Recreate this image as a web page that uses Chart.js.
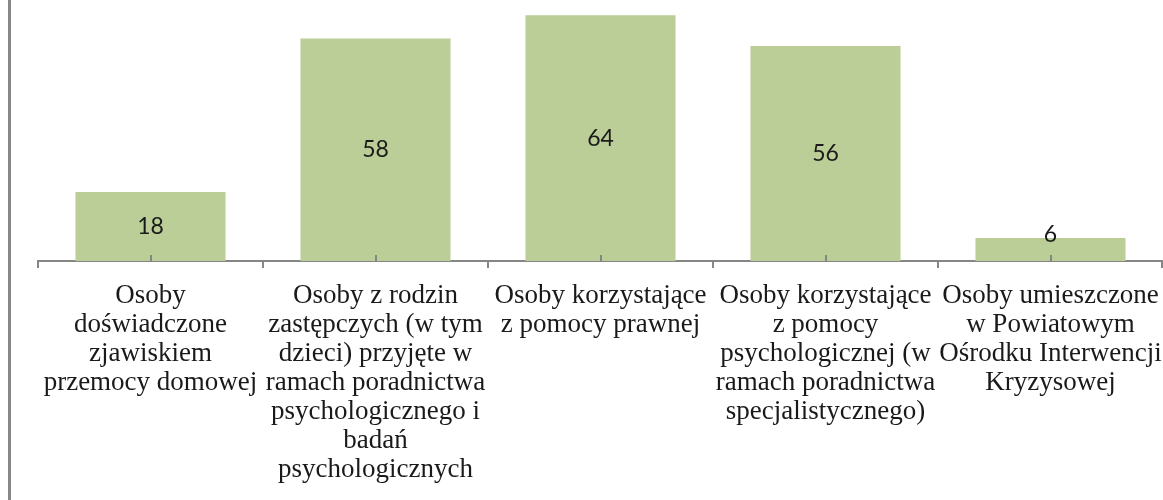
<!DOCTYPE html>
<html>
<head>
<meta charset="utf-8">
<script src="https://cdn.jsdelivr.net/npm/chart.js@4/dist/chart.umd.min.js"></script>
<style>
  html, body { margin: 0; padding: 0; background: #fff; }
  #wrap { position: relative; width: 1163px; height: 500px; }
  #frame { position: absolute; left: 8px; top: 0; width: 3px; height: 500px; background: #878787; }
  canvas { position: absolute; left: 0; top: 0; }
</style>
</head>
<body>
<div id="wrap">
  <canvas id="c" width="1163" height="500"></canvas>
  <div id="frame"></div>
</div>
<script>
const categories = [
  ["Osoby", "doświadczone", "zjawiskiem", "przemocy domowej"],
  ["Osoby z rodzin", "zastępczych (w tym", "dzieci) przyjęte w", "ramach poradnictwa", "psychologicznego i", "badań", "psychologicznych"],
  ["Osoby korzystające", "z pomocy prawnej"],
  ["Osoby korzystające", "z pomocy", "psychologicznej (w", "ramach poradnictwa", "specjalistycznego)"],
  ["Osoby umieszczone", "w Powiatowym", "Ośrodku Interwencji", "Kryzysowej"]
];
const values = [18, 58, 64, 56, 6];

const axisColor = '#868686';

const extrasPlugin = {
  id: 'extras',
  afterDatasetsDraw(chart) {
    const ctx = chart.ctx;
    const xs = chart.scales.x;
    const area = chart.chartArea;
    const y0 = area.bottom;
    ctx.save();
    ctx.strokeStyle = axisColor;
    ctx.lineWidth = 2;
    for (let i = 0; i <= values.length; i++) {
      const x = Math.min(Math.round(xs.getPixelForValue(i - 0.5)), 1162);
      ctx.beginPath();
      ctx.moveTo(x, y0);
      ctx.lineTo(x, y0 + 7);
      ctx.stroke();
    }
    for (let i = 0; i < values.length; i++) {
      const x = Math.round(xs.getPixelForValue(i));
      ctx.beginPath();
      ctx.moveTo(x, y0);
      ctx.lineTo(x, y0 - 6);
      ctx.stroke();
    }
    const meta = chart.getDatasetMeta(0);
    ctx.fillStyle = '#1a1a1a';
    ctx.font = '23px Lato, "Open Sans", sans-serif';
    ctx.textAlign = 'center';
    ctx.textBaseline = 'middle';
    meta.data.forEach((bar, i) => {
      const h = bar.base - bar.y;
      let y = (bar.y + bar.base) / 2;
      if (h < 30) y = bar.y - 3;
      ctx.fillText(String(values[i]), bar.x, y);
    });
    ctx.restore();
  }
};

new Chart(document.getElementById('c'), {
  type: 'bar',
  data: {
    labels: categories,
    datasets: [{
      data: values,
      backgroundColor: '#BBCE97',
      borderWidth: 0,
      barPercentage: 0.667,
      categoryPercentage: 1.0
    }]
  },
  options: {
    responsive: false,
    animation: false,
    layout: { padding: { left: 38, right: 0, top: 0, bottom: 0 } },
    plugins: { legend: { display: false }, tooltip: { enabled: false } },
    scales: {
      x: {
        offset: true,
        grid: { display: false, drawTicks: false },
        border: { display: true, color: axisColor, width: 2 },
        ticks: {
          autoSkip: false,
          maxRotation: 0,
          minRotation: 0,
          padding: 20,
          color: '#1a1a1a',
          font: { family: '"Liberation Serif", "Times New Roman", serif', size: 27, lineHeight: 1.075 }
        },
        afterFit(scale) {
          scale.height = 239;
          scale.paddingLeft = 0;
          scale.paddingRight = 0;
        }
      },
      y: {
        display: false,
        min: 0,
        max: 68
      }
    }
  },
  plugins: [extrasPlugin]
});
</script>
</body>
</html>
